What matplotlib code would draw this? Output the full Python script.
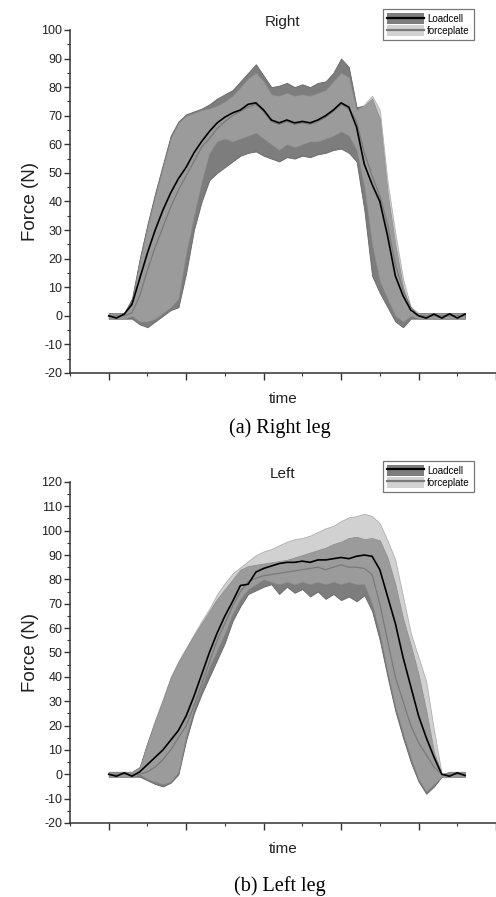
import numpy as np
import matplotlib
matplotlib.use('Agg')
import matplotlib.pyplot as plt
from matplotlib.patches import Patch
from matplotlib.lines import Line2D
from matplotlib.ticker import MultipleLocator

plt.rcParams['font.family'] = ['Liberation Sans', 'DejaVu Sans']
plt.rcParams['axes.unicode_minus'] = False

# sample times (arbitrary units, ticks carry no labels)
t = np.round(np.arange(1.0, 5.65, 0.1), 1)

# ---- Right leg ----
lc_mean_r = [0, -0.8, 0.6, 4, 13, 22, 30, 37, 43, 48,
             52, 57, 61, 64.5, 67.5, 69.5, 71, 72, 74, 74.5,
             72, 68.5, 67.5, 68.5, 67.5, 68, 67.5, 68.5, 70, 72,
             74.5, 73, 66, 53, 46, 40, 28, 14, 7, 2,
             0, -0.8, 0.6, -0.8, 0.7, -0.8, 0.6]
fp_mean_r = [0, 0, 0, 1, 7, 16, 24, 31, 38, 44,
             49, 54, 59, 62, 65.5, 68, 70, 71.5, 73, 74,
             71.5, 68, 67, 68, 67, 67.5, 67, 68, 69.5, 71.5,
             74, 72.5, 68, 57, 49, 42, 32, 18, 9, 3,
             0, 0, 0, 0, 0, 0, 0]
lc_hi_r = [1, 1, 1, 6, 20, 32, 43, 53, 63, 68,
           70.5, 71.5, 72.5, 74, 76, 77.5, 79, 82, 85, 88,
           84, 80, 80.5, 81.5, 80, 81, 80, 81.5, 82, 85,
           90, 87, 73, 73.5, 76, 69, 43, 25, 10, 1,
           1, 1, 1, 1, 1, 1, 1]
lc_lo_r = [-1, -1, -1, -1, -3, -4, -2, 0, 2, 3,
           15, 30, 40, 47.5, 50, 52, 54, 56, 57, 57.5,
           56, 55, 54, 55.5, 55, 56, 55.5, 56.5, 57, 58,
           58.5, 57, 54, 37, 14, 8, 3, -2, -4, -1,
           -1, -1, -1, -1, -1, -1, -1]
fp_hi_r = [1, 1, 1, 5, 19, 31, 42, 52, 62, 67.5,
           70, 71, 72, 72.5, 73.5, 75, 77, 80, 83, 85,
           82, 77.5, 77, 78, 77, 77.5, 77, 78, 79, 82,
           85, 83.5, 72, 74, 77, 72, 47, 29, 13, 3,
           1, 1, 1, 1, 1, 1, 1]
fp_lo_r = [-1, -1, -1, 0, -2, -2, -1, 1, 3, 6,
           22, 35, 47, 57, 61, 62, 61, 62, 63, 64,
           62, 60, 58, 60, 59, 60, 61, 61, 62, 63,
           64.5, 63, 58, 45, 25, 12, 6, 0, -2, 0,
           -1, -1, -1, -1, -1, -1, -1]

# ---- Left leg ----
lc_mean_l = [0, -0.8, 0.6, -0.8, 1, 4, 7, 10, 14, 18,
             24, 32, 41, 50, 58, 65, 71, 77.5, 78, 83,
             84.5, 85.5, 86.5, 87, 87, 87.5, 87, 88, 88, 88.5,
             89, 88.5, 89.5, 90, 89.5, 84, 73, 62, 48, 36,
             24, 15, 7, 0, -0.8, 0.6, -0.5]
fp_mean_l = [0, 0, 0, 0, 0, 1, 3, 6, 10, 15,
             20, 28, 37, 46, 55, 62, 69, 75, 79, 80.5,
             81.5, 82, 82.5, 83, 83.5, 84, 84.5, 85, 84, 85,
             86, 85, 85, 84.5, 82, 70, 55, 40, 30, 20,
             13, 8, 3, 0, 0, 0, 0]
lc_hi_l = [1, 1, 1, 1, 3, 13, 22, 30.5, 39.5, 46,
           51.5, 57, 62, 67, 72, 76, 80, 84, 85.5, 86,
           86.5, 87, 87.5, 88, 89, 90, 91, 92, 93, 94.5,
           95.5, 97, 97.5, 96.5, 97, 96, 89, 78, 64, 53,
           41, 26, 9, 0, 1, 1, 1]
lc_lo_l = [-1, -1, -1, -1, -1, -2.5, -4, -5, -3.5, 0,
           14, 25, 33, 40, 47, 54, 63, 69, 74, 75.5,
           77, 78, 74, 77, 74.5, 76, 73, 75, 72, 74,
           71.5, 73, 71, 73.5, 67, 55, 40, 26, 15, 5,
           -3, -8, -5, -1, -1, -1, -1]
fp_hi_l = [1, 1, 1, 1, 3, 13, 22.5, 31, 40, 46.5,
           52, 57.5, 63, 68, 74, 78.5, 82.5, 85, 87.5, 90,
           91.5, 92.5, 94, 95.5, 96.5, 97, 98, 99.5, 101, 102,
           104, 105.5, 106, 107, 106, 103, 96, 88, 73, 58,
           48, 38, 18, 0, 1, 1, 1]
fp_lo_l = [-1, -1, -1, -1, 0, -2, -3, -4, -3, 1,
           16, 27, 36, 44, 51, 58, 66, 72, 76, 78,
           80, 79, 78, 79, 78, 79, 78, 79, 78, 79,
           78, 79, 78, 78, 70, 58, 42, 28, 17, 7,
           -2, -7, -4, -1, -1, -1, -1]

LC_FILL = '#7d7d7d'
FP_FILL = '#b1b1b1'
FP_LINE = '#7a7a7a'


def draw_panel(ax, title, ylim, lc_mean, lc_lo, lc_hi, fp_mean, fp_lo, fp_hi):
    ax.fill_between(t, lc_lo, lc_hi, color=LC_FILL, edgecolor='#666666',
                    linewidth=0.6, zorder=1)
    ax.fill_between(t, fp_lo, fp_hi, color=FP_FILL, alpha=0.58,
                    edgecolor='#8a8a8a', linewidth=0.6, zorder=2)
    ax.plot(t, fp_mean, color=FP_LINE, lw=0.9, zorder=3)
    ax.plot(t, lc_mean, color='black', lw=1.2, zorder=4)

    ax.set_xlim(0.5, 6.0)
    ax.set_ylim(*ylim)
    ax.xaxis.set_major_locator(MultipleLocator(1))
    ax.xaxis.set_minor_locator(MultipleLocator(0.5))
    ax.yaxis.set_major_locator(MultipleLocator(10))
    ax.yaxis.set_minor_locator(MultipleLocator(5))
    ax.set_xticklabels([])
    ax.tick_params(axis='x', which='major', length=5, width=1.0, color='#333333')
    ax.tick_params(axis='x', which='minor', length=2.5, width=0.8, color='#333333')
    ax.tick_params(axis='y', which='major', length=4, width=1.0, color='#333333',
                   labelsize=9, pad=1.5, labelcolor='#222222')
    ax.tick_params(axis='y', which='minor', length=2, width=0.8, color='#333333')
    for s in ['top', 'right']:
        ax.spines[s].set_visible(False)
    for s in ['left', 'bottom']:
        ax.spines[s].set_linewidth(1.1)
        ax.spines[s].set_color('#333333')

    ax.set_title(title, fontsize=11, pad=3, color='#222222')
    ax.set_xlabel('time', fontsize=11, labelpad=5, color='#222222')
    ax.set_ylabel('Force (N)', fontsize=13.5, labelpad=2, color='#222222')


fig = plt.figure(figsize=(4.96, 8.97), dpi=100)
ax1 = fig.add_axes([0.1411, 0.5842, 0.8589, 0.3824])
ax2 = fig.add_axes([0.1411, 0.0825, 0.8589, 0.3802])

draw_panel(ax1, 'Right', (-20, 100), lc_mean_r, lc_lo_r, lc_hi_r,
           fp_mean_r, fp_lo_r, fp_hi_r)
draw_panel(ax2, 'Left', (-20, 120), lc_mean_l, lc_lo_l, lc_hi_l,
           fp_mean_l, fp_lo_l, fp_hi_l)

handles = [(Patch(facecolor=LC_FILL, edgecolor='none'), Line2D([], [], color='black', lw=1.6)),
           (Patch(facecolor='#d2d2d2', edgecolor='none'), Line2D([], [], color=FP_LINE, lw=1.6))]
labels = ['Loadcell', 'forceplate']
for anchor in [(0.956, 0.990), (0.956, 0.4864)]:
    leg = fig.legend(handles, labels, loc='upper right', bbox_to_anchor=anchor,
                     fontsize=7, frameon=True, fancybox=False, framealpha=1,
                     edgecolor='#777777', handlelength=3.8, handleheight=1.3,
                     handletextpad=0.3, borderpad=0.45, labelspacing=0.15,
                     borderaxespad=0)
    leg.get_frame().set_linewidth(0.9)

fig.text(0.5645, 1 - 428 / 897, '(a) Right leg', ha='center', va='center',
         family='Liberation Serif', fontsize=14.5)
fig.text(0.5645, 1 - 886 / 897, '(b) Left leg', ha='center', va='center',
         family='Liberation Serif', fontsize=14.5)

fig.savefig('out.png', dpi=100, facecolor='white')
